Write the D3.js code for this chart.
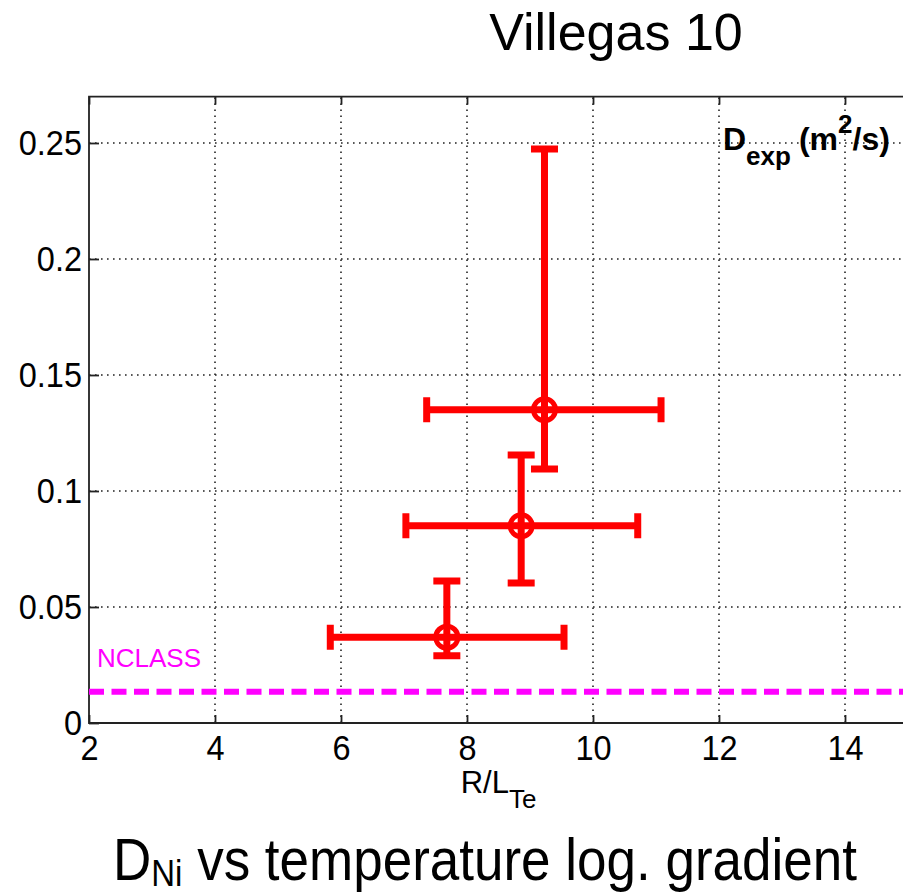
<!DOCTYPE html>
<html lang="en">
<head>
  <meta charset="UTF-8">
  <title>Villegas 10</title>
  <style>
    body { margin: 0; background: #fff; }
    text { font-family: "Liberation Sans", Arial, sans-serif; }
  </style>
</head>
<body>
<script src="https://d3js.org/d3.v7.min.js"></script>
<script>
  // values
  const rlte = [9.23, 8.86, 7.68]
  const dexp = [0.135, 0.085, 0.037]
  const rlteLo = [7.36, 7.03, 5.83]
  const rlteHi = [11.08, 10.71, 9.54]
  const dexpLo = [0.1095, 0.0603, 0.029]
  const dexpHi = [0.2474, 0.1155, 0.0612]
  const nclass = 0.0135
  const xTicks = [2, 4, 6, 8, 10, 12, 14]
  const yTicks = [0, 0.05, 0.1, 0.15, 0.2, 0.25]

  const points = rlte.map((d, i) => ({
    x: d, y: dexp[i], xlo: rlteLo[i], xhi: rlteHi[i], ylo: dexpLo[i], yhi: dexpHi[i]
  }))

  const width = 903
  const height = 894

  const svg = d3.select('body')
    .append('svg')
    .attr('width', width)
    .attr('height', height)

  const x = d3.scaleLinear().domain([2, 15]).range([89, 908])
  const y = d3.scaleLinear().domain([0, 0.27]).range([723, 96.6])

  // grid
  const grid = svg.append('g')
    .attr('stroke', '#222')
    .attr('stroke-width', 1.6)
    .attr('stroke-dasharray', '1.6,4.4')
  grid.selectAll('.vg')
    .data(xTicks.slice(1))
    .enter()
    .append('line')
    .attr('x1', d => x(d)).attr('x2', d => x(d))
    .attr('y1', y(0)).attr('y2', y(0.27))
  grid.selectAll('.hg')
    .data(yTicks.slice(1))
    .enter()
    .append('line')
    .attr('x1', x(2)).attr('x2', x(15))
    .attr('y1', d => y(d)).attr('y2', d => y(d))

  // axes
  const xAxis = svg.append('g')
    .attr('transform', `translate(0,${y(0)})`)
    .call(d3.axisBottom(x).tickValues(xTicks).tickSizeInner(-8).tickSizeOuter(0).tickPadding(11).tickFormat(d3.format('d')))
  const xTop = svg.append('g')
    .attr('transform', `translate(0,${y(0.27)})`)
    .call(d3.axisTop(x).tickValues(xTicks).tickSizeInner(-8).tickSizeOuter(0).tickFormat(''))
  const yAxis = svg.append('g')
    .attr('transform', `translate(${x(2)},0)`)
    .call(d3.axisLeft(y).tickValues(yTicks).tickSizeInner(-10).tickSizeOuter(0).tickPadding(7).tickFormat(d => d === 0 ? '0' : String(d)))

  for (const ax of [xAxis, xTop, yAxis]) {
    ax.select('.domain').remove()
    ax.selectAll('.tick line').attr('stroke', '#222').attr('stroke-width', 1.8)
    ax.selectAll('text')
      .attr('fill', '#000')
      .attr('transform', 'scale(1,1.1)')
      .style('font-size', '32.5px')
  }

  // box
  svg.append('path')
    .attr('d', `M${x(15)},${y(0.27)}H${x(2)}V${y(0)}H${x(15)}`)
    .attr('fill', 'none')
    .attr('stroke', '#222')
    .attr('stroke-width', 1.8)

  // NCLASS level
  svg.append('line')
    .attr('x1', x(2)).attr('x2', x(15))
    .attr('y1', y(nclass)).attr('y2', y(nclass))
    .attr('stroke', '#ff00ff')
    .attr('stroke-width', 6)
    .attr('stroke-dasharray', '15,7.5')
  svg.append('text')
    .attr('x', 97).attr('y', 667)
    .attr('fill', '#ff00ff')
    .style('font-size', '26px')
    .text('NCLASS')

  // error bars
  const eb = svg.append('g')
    .attr('stroke', '#ff0000')
    .attr('stroke-width', 7)
    .attr('fill', 'none')
  const pg = eb.selectAll('g')
    .data(points)
    .enter()
    .append('g')
  pg.append('path')
    .attr('d', d => `M${x(d.xlo)},${y(d.y)}H${x(d.xhi)}` +
      `M${x(d.xlo)},${y(d.y) - 12.5}v25M${x(d.xhi)},${y(d.y) - 12.5}v25`)
  pg.append('path')
    .attr('d', d => `M${x(d.x)},${y(d.ylo)}V${y(d.yhi)}` +
      `M${x(d.x) - 13.5},${y(d.ylo)}h27M${x(d.x) - 13.5},${y(d.yhi)}h27`)
  pg.append('circle')
    .attr('cx', d => x(d.x))
    .attr('cy', d => y(d.y))
    .attr('r', 11)
    .attr('stroke-width', 5)

  // in-plot label
  const lab = svg.append('text')
    .attr('x', 723).attr('y', 150)
    .attr('fill', '#000')
    .style('font-size', '32px')
    .style('font-weight', 'bold')
  lab.append('tspan').text('D')
  lab.append('tspan').attr('dy', 15).style('font-size', '26px').text('exp')
  lab.append('tspan').attr('dx', 8).attr('dy', -15).text('(m')
  lab.append('tspan').attr('dy', -17).style('font-size', '26px').text('2')
  lab.append('tspan').attr('dy', 17).text('/s)')

  // x label
  const xl = svg.append('text')
    .attr('x', (x(2) + x(15)) / 2).attr('y', 793)
    .attr('text-anchor', 'middle')
    .attr('fill', '#000')
    .style('font-size', '31px')
  xl.append('tspan').text('R/L')
  xl.append('tspan').attr('dy', 15).style('font-size', '26px').text('Te')

  // title
  svg.append('text')
    .attr('x', 616).attr('y', 50)
    .attr('text-anchor', 'middle')
    .attr('fill', '#000')
    .style('font-size', '52px')
    .text('Villegas 10')

  // caption
  const cap = svg.append('text')
    .attr('transform', 'translate(113,880) scale(1,1.1)')
    .attr('fill', '#000')
    .style('font-size', '53px')
  cap.append('tspan').text('D')
  cap.append('tspan').attr('dy', 5).style('font-size', '33px').text('Ni')
  cap.append('tspan').attr('dy', -5).text(' vs temperature log. gradient')
</script>
</body>
</html>
